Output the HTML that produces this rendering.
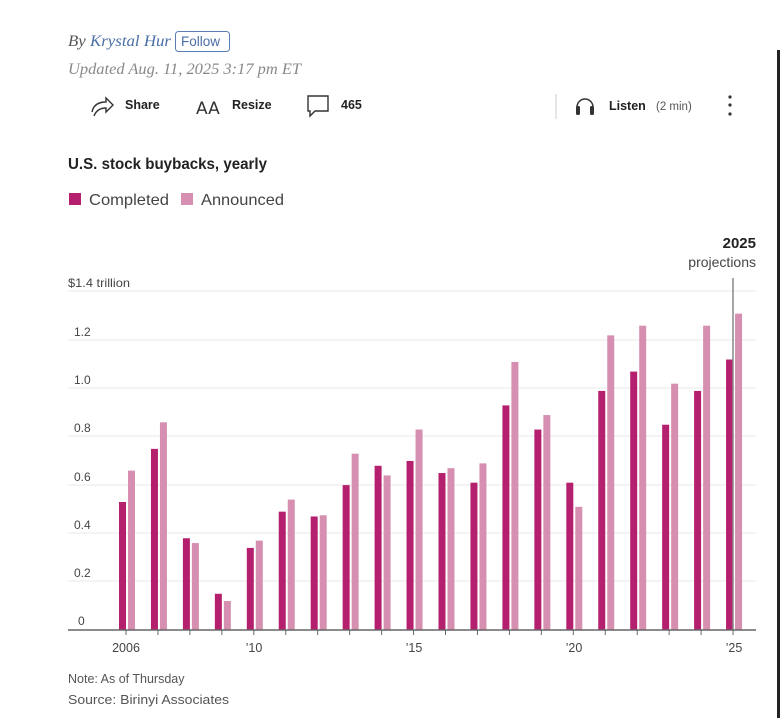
<!DOCTYPE html>
<html><head><meta charset="utf-8"><style>
html,body{margin:0;padding:0;background:#fff;width:780px;height:718px;overflow:hidden;font-family:"Liberation Sans",sans-serif}
</style></head><body>
<svg width="780" height="718" viewBox="0 0 780 718" xmlns="http://www.w3.org/2000/svg">
<rect x="777" y="50" width="3" height="668" fill="#222"/>
<text x="68" y="46" font-family="Liberation Serif" font-style="italic" font-size="15.5" fill="#555" textLength="103" lengthAdjust="spacingAndGlyphs">By <tspan fill="#4a6fa5">Krystal Hur</tspan></text>
<rect x="175.5" y="31.5" width="54" height="20" rx="3" fill="none" stroke="#5a7fb5"/>
<text x="181" y="46" font-size="13.5" fill="#4a6fa5">Follow</text>
<text x="68" y="74" font-family="Liberation Serif" font-style="italic" font-size="15.5" fill="#888" textLength="233" lengthAdjust="spacingAndGlyphs">Updated Aug. 11, 2025 3:17 pm ET</text>
<path d="M92 112 q2-10 14-10 v-4 l7 7 -7 7 v-4 q-9 0 -12 8" fill="none" stroke="#333" stroke-width="1.4"/>
<text x="125" y="109" font-size="12.5" font-weight="bold" fill="#222">Share</text>
<text x="196" y="114" font-size="17" fill="#333" font-family="DejaVu Sans">AA</text>
<text x="232" y="109" font-size="12.5" font-weight="bold" fill="#222">Resize</text>
<path d="M308 96 h20 v15 h-13 l-5 5 v-5 h-2 z" fill="none" stroke="#333" stroke-width="1.4"/>
<text x="341" y="109" font-size="12.5" font-weight="bold" fill="#222">465</text>
<line x1="556" y1="94" x2="556" y2="119" stroke="#ccc"/>
<path d="M577 111 v-4 a8 8 0 0 1 16 0 v4" fill="none" stroke="#333" stroke-width="1.5"/>
<rect x="576" y="106" width="4" height="9" rx="1.5" fill="#333"/><rect x="590" y="106" width="4" height="9" rx="1.5" fill="#333"/>
<text x="609" y="110" font-size="12.5" font-weight="bold" fill="#222">Listen</text>
<text x="656" y="110" font-size="11.5" fill="#555">(2 min)</text>
<circle cx="730" cy="97" r="1.6" fill="#333"/><circle cx="730" cy="105" r="1.6" fill="#333"/><circle cx="730" cy="114" r="1.6" fill="#333"/>
<text x="68" y="169" font-size="16" font-weight="bold" fill="#222" textLength="199" lengthAdjust="spacingAndGlyphs">U.S. stock buybacks, yearly</text>
<rect x="69" y="193" width="12" height="12" fill="#b5206e"/>
<text x="89" y="205" font-size="16" fill="#444" textLength="80" lengthAdjust="spacingAndGlyphs">Completed</text>
<rect x="181" y="193" width="12" height="12" fill="#d68fb1"/>
<text x="201" y="205" font-size="16" fill="#444" textLength="83" lengthAdjust="spacingAndGlyphs">Announced</text>
<text x="756" y="248" font-size="15" font-weight="bold" text-anchor="end" fill="#222">2025</text>
<text x="756" y="267" font-size="14" text-anchor="end" fill="#444">projections</text>
<g stroke="#e8e8e8" stroke-width="1">
<line x1="68" y1="291" x2="756" y2="291"/><line x1="68" y1="340" x2="756" y2="340"/>
<line x1="68" y1="388" x2="756" y2="388"/><line x1="68" y1="436" x2="756" y2="436"/>
<line x1="68" y1="485" x2="756" y2="485"/><line x1="68" y1="533" x2="756" y2="533"/>
<line x1="68" y1="581" x2="756" y2="581"/>
</g>
<g font-size="12" fill="#444">
<text x="68" y="287" textLength="62" lengthAdjust="spacingAndGlyphs">$1.4 trillion</text>
<text x="74" y="336">1.2</text><text x="74" y="384">1.0</text><text x="74" y="432">0.8</text>
<text x="74" y="481">0.6</text><text x="74" y="529">0.4</text><text x="74" y="577">0.2</text>
<text x="78" y="625">0</text>
</g>
<g id="bars"></g>
<line x1="733" y1="278" x2="733" y2="630" stroke="#888" stroke-width="1.5"/>
<line x1="68" y1="630" x2="756" y2="630" stroke="#666" stroke-width="1.5"/>
<g id="ticks" stroke="#666"></g>
<g font-size="12.5" fill="#444" text-anchor="middle">
<text x="126" y="652">2006</text><text x="254" y="652">’10</text><text x="414" y="652">’15</text>
<text x="574" y="652">’20</text><text x="734" y="652">’25</text>
</g>
<text x="68" y="683" font-size="12.5" fill="#555">Note: As of Thursday</text>
<text x="68" y="704" font-size="12.5" fill="#555" textLength="161" lengthAdjust="spacingAndGlyphs">Source: Birinyi Associates</text>
</svg>
<script>
var C=[.53,.75,.38,.15,.34,.49,.47,.60,.68,.70,.65,.61,.93,.83,.61,.99,1.07,.85,.99,1.12];
var A=[.66,.86,.36,.12,.37,.54,.475,.73,.64,.83,.67,.69,1.11,.89,.51,1.22,1.26,1.02,1.26,1.31];
var ns="http://www.w3.org/2000/svg",b=document.getElementById("bars"),t=document.getElementById("ticks");
function r(x,v,c){var e=document.createElementNS(ns,"rect");var h=v*241.5;e.setAttribute("x",x);e.setAttribute("y",630-h);e.setAttribute("width",7);e.setAttribute("height",h);e.setAttribute("fill",c);b.appendChild(e);}
for(var i=0;i<20;i++){var cx=126+i*31.95;r(cx-7,C[i],"#b5206e");r(cx+2,A[i],"#d68fb1");
var l=document.createElementNS(ns,"line");l.setAttribute("x1",cx);l.setAttribute("x2",cx);l.setAttribute("y1",630);l.setAttribute("y2",635);t.appendChild(l);}
</script>
</body></html>
